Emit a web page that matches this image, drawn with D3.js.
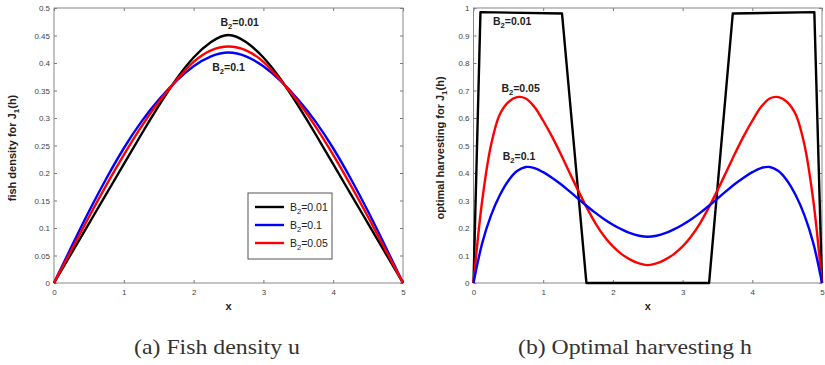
<!DOCTYPE html>
<html lang="en">
<head>
<meta charset="UTF-8">
<script src="https://d3js.org/d3.v7.min.js"></script>
<style>
  body { margin: 0; background: #fff; }
  svg { display: block; font-family: "Liberation Sans", Arial, sans-serif; }
  .tick text { fill: #444; font-size: 8px; }
  .tick line { stroke: #777; }
  .frame { fill: none; stroke: #888; stroke-width: 1; }
  .series { fill: none; stroke-width: 2.4; stroke-linejoin: round; }
  .note { font-weight: bold; font-size: 10.5px; fill: #222; }
  .axlabel { font-weight: bold; font-size: 11px; fill: #222; }
  .legend text { font-size: 10.5px; fill: #222; }
  .caption { font-family: "Liberation Serif", "DejaVu Serif", serif; font-size: 21px; fill: #333; }
</style>
</head>
<body>
<script>
// panel (a): fish density u
const xU = [0,0.25,0.5,0.75,1,1.25,1.5,1.75,2,2.25,2.5,2.75,3,3.25,3.5,3.75,4,4.25,4.5,4.75,5];
const uB001 = [0,0.054,0.108,0.162,0.216,0.27,0.322,0.37,0.41,0.438,0.451,0.438,0.41,0.37,0.322,0.27,0.216,0.162,0.108,0.054,0];
const uB01  = [0,0.066,0.13,0.19,0.245,0.293,0.333,0.367,0.394,0.412,0.419,0.412,0.394,0.367,0.333,0.293,0.245,0.19,0.13,0.066,0];
const uB005 = [0,0.06,0.12,0.178,0.233,0.284,0.329,0.368,0.402,0.423,0.43,0.423,0.402,0.368,0.329,0.284,0.233,0.178,0.12,0.06,0];

// panel (b): optimal harvesting h
const xH = [0,0.125,0.25,0.375,0.5,0.625,0.75,0.875,1,1.125,1.25,1.375,1.5,1.625,1.75,1.875,2,2.125,2.25,2.375,2.5,
            2.625,2.75,2.875,3,3.125,3.25,3.375,3.5,3.625,3.75,3.875,4,4.125,4.25,4.375,4.5,4.625,4.75,4.875,5];
const hB005 = [0,0.3,0.5,0.612,0.658,0.676,0.671,0.64,0.59,0.533,0.47,0.403,0.337,0.274,0.217,0.17,0.133,0.105,0.085,0.071,0.065,
               0.071,0.085,0.105,0.133,0.17,0.217,0.274,0.337,0.403,0.47,0.533,0.59,0.64,0.671,0.676,0.658,0.612,0.5,0.3,0];
const hB01  = [0,0.145,0.245,0.318,0.372,0.407,0.422,0.418,0.403,0.383,0.36,0.334,0.307,0.28,0.255,0.232,0.212,0.195,0.181,0.172,0.168,
               0.172,0.181,0.195,0.212,0.232,0.255,0.28,0.307,0.334,0.36,0.383,0.403,0.418,0.422,0.407,0.372,0.318,0.245,0.145,0];
const xH001 = [0,0.1,1.27,1.62,3.38,3.72,4.89,5];
const hB001 = [0,0.985,0.98,0,0,0.98,0.985,0];

const xTicks = [0,1,2,3,4,5];
const uTicks = [0,0.05,0.1,0.15,0.2,0.25,0.3,0.35,0.4,0.45,0.5];
const hTicks = [0,0.1,0.2,0.3,0.4,0.5,0.6,0.7,0.8,0.9,1];

const legendNames = ["0.01", "0.1", "0.05"];
const legendColors = ["#000", "#0000ff", "#ff0000"];

const svg = d3.select("body").append("svg").attr("width", 825).attr("height", 365);

function drawPanel(opt) {
  const x = d3.scaleLinear().domain([0, 5]).range(opt.xr);
  const y = d3.scaleLinear().domain(opt.yd).range([283, 8]);
  const g = svg.append("g");

  const bottom = g.append("g").attr("transform", "translate(0,283)")
    .call(d3.axisBottom(x).tickValues(xTicks).tickFormat(d3.format("d")).tickSize(-3).tickPadding(6));
  const top = g.append("g").attr("transform", "translate(0,8)")
    .call(d3.axisTop(x).tickValues(xTicks).tickSize(-3).tickFormat(""));
  const left = g.append("g").attr("transform", `translate(${opt.xr[0]},0)`)
    .call(d3.axisLeft(y).tickValues(opt.ticks).tickFormat(d => String(d)).tickSize(-3).tickPadding(4));
  const right = g.append("g").attr("transform", `translate(${opt.xr[1]},0)`)
    .call(d3.axisRight(y).tickValues(opt.ticks).tickSize(-3).tickFormat(""));
  [bottom, top, left, right].forEach(a => a.select(".domain").remove());

  g.append("rect").attr("class", "frame")
    .attr("x", opt.xr[0]).attr("y", 8)
    .attr("width", opt.xr[1] - opt.xr[0]).attr("height", 275);

  opt.series.forEach(s => {
    const line = d3.line().x(d => x(d[0])).y(d => y(d[1])).curve(s.curve || opt.curve);
    g.append("path").attr("class", "series").attr("stroke", s.color)
      .attr("d", line(d3.zip(s.xs, s.ys)));
  });

  opt.notes.forEach(n => {
    const t = g.append("text").attr("class", "note")
      .attr("x", x(n.x)).attr("y", y(n.y)).attr("text-anchor", n.anchor || "middle");
    subLabel(t, n.val);
  });

  // y label
  g.append("text").attr("class", "axlabel")
    .attr("transform", `translate(${opt.ylx},148) rotate(-90)`)
    .attr("text-anchor", "middle")
    .call(t => {
      t.append("tspan").text(opt.ylabel + " J");
      t.append("tspan").attr("font-size", "8px").attr("dy", 3).text("1");
      t.append("tspan").attr("dy", -3).text("(h)");
    });

  g.append("text").attr("class", "axlabel")
    .attr("x", (opt.xr[0] + opt.xr[1]) / 2).attr("y", 310)
    .attr("text-anchor", "middle").text("x");

  g.append("text").attr("class", "caption")
    .attr("x", opt.cap[0]).attr("y", 354)
    .attr("textLength", opt.cap[1] - opt.cap[0]).attr("lengthAdjust", "spacingAndGlyphs")
    .text(opt.caption);
  return {x, y, g};
}

function subLabel(t, val) {
  t.append("tspan").text("B");
  t.append("tspan").attr("font-size", "0.72em").attr("dy", 3).text("2");
  t.append("tspan").attr("dy", -3).text("=" + val);
}

const pa = drawPanel({
  xr: [54, 403], yd: [0, 0.5], ticks: uTicks, ylx: 16, curve: d3.curveNatural,
  ylabel: "fish density for", caption: "(a) Fish density u", cap: [134, 300],
  series: [
    {xs: xU, ys: uB001, color: legendColors[0]},
    {xs: xU, ys: uB01, color: legendColors[1]},
    {xs: xU, ys: uB005, color: legendColors[2]}
  ],
  notes: [
    {x: 2.66, y: 0.468, val: "0.01"},
    {x: 2.5, y: 0.385, val: "0.1"}
  ]
});

drawPanel({
  xr: [473.5, 822], yd: [0, 1], ticks: hTicks, ylx: 444, curve: d3.curveCatmullRom,
  ylabel: "optimal harvesting for", caption: "(b) Optimal harvesting h", cap: [518, 752],
  series: [
    {xs: xH001, ys: hB001, color: legendColors[0], curve: d3.curveLinear},
    {xs: xH, ys: hB005, color: legendColors[2]},
    {xs: xH, ys: hB01, color: legendColors[1]}
  ],
  notes: [
    {x: 0.28, y: 0.938, val: "0.01", anchor: "start"},
    {x: 0.4, y: 0.693, val: "0.05", anchor: "start"},
    {x: 0.42, y: 0.447, val: "0.1", anchor: "start"}
  ]
});

// legend in panel (a)
const lg = pa.g.append("g").attr("class", "legend");
lg.append("rect").attr("x", 248).attr("y", 193).attr("width", 84).attr("height", 66)
  .attr("fill", "#fff").attr("stroke", "#555");
legendNames.forEach((nm, i) => {
  const yy = 207 + i * 18;
  lg.append("line").attr("x1", 255).attr("x2", 284).attr("y1", yy).attr("y2", yy)
    .attr("stroke", legendColors[i]).attr("stroke-width", 2.4);
  const t = lg.append("text").attr("x", 290).attr("y", yy + 3.5);
  subLabel(t, nm);
});
</script>
</body>
</html>
